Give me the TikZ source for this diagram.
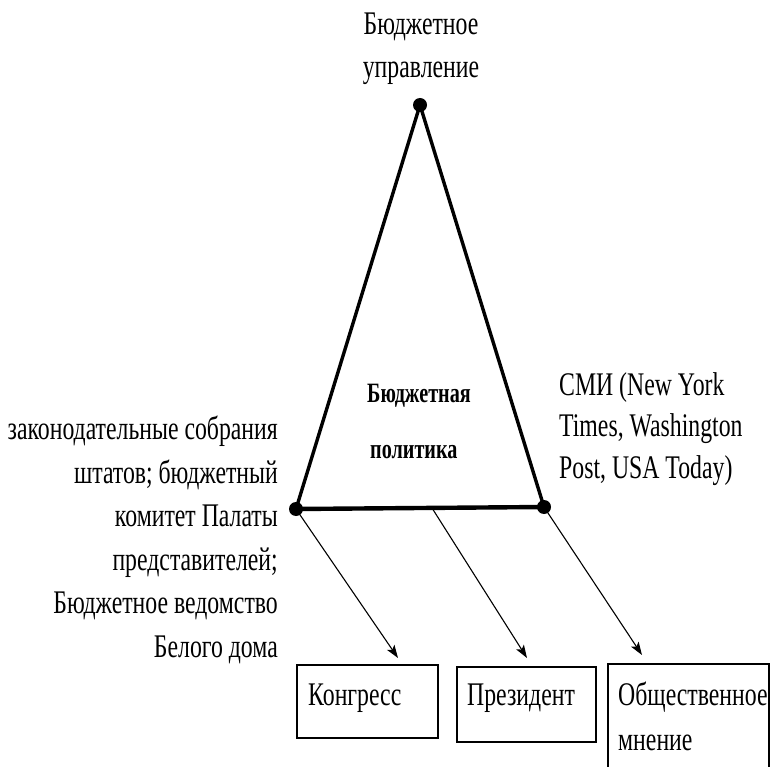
\documentclass[tikz,border=0pt]{standalone}
\usepackage{fontspec}
\setmainfont{Liberation Serif}[FakeStretch=0.72]
\usetikzlibrary{arrows.meta}
\tikzset{
  x=1pt, y=-1pt,
  dot/.style={circle, fill=black, inner sep=0pt, minimum size=14pt},
  edge/.style={line width=3.4pt, line cap=round},
  base/.style={line width=4.4pt, line cap=round},
  link/.style={line width=1.1pt, -{Stealth[length=13pt,width=9pt,inset=3pt]}},
  box/.style={draw, line width=1.1pt},
  lbl/.style={inner sep=0pt, font=\fontsize{33}{43.5}\selectfont},
  boxlbl/.style={inner sep=0pt, anchor=base west, font=\fontsize{33}{45}\selectfont, align=left},
}
\begin{document}
\begin{tikzpicture}
\useasboundingbox (0,0) rectangle (771,767);
\clip (0,0) rectangle (771,767);
% vertices
\coordinate (A) at (420,105);
\coordinate (L) at (296,509);
\coordinate (R) at (544,507);
\coordinate (M) at (432,508);
% triangle
\draw[edge] (L) -- (A) -- (R);
\draw[base] (L) -- (R);
\node[dot] (dA) at (A) {};
\node[dot] (dL) at (L) {};
\node[dot] (dR) at (R) {};
% boxes
\draw[box] (297,665) rectangle (438,738);
\draw[box] (457,667) rectangle (596,742);
\draw[box] (608,664) rectangle (769,800);
% arrow ends
\coordinate (ke) at (398,658);
\coordinate (pe) at (527,658);
\coordinate (oe) at (642,655);
\draw[link] (L) -- (ke);
\draw[link] (M) -- (pe);
\draw[link] (R) -- (oe);
% texts (base anchor = baseline of last line)
\node[lbl, anchor=base, align=center] (top) at (421,78) {Бюджетное\\управление};
\node[lbl, anchor=base east, align=right] (left) at (278,657) {законодательные собрания\\штатов; бюджетный\\комитет Палаты\\представителей;\\Бюджетное ведомство\\Белого дома};
\node[inner sep=0pt, font=\fontsize{33}{41.5}\selectfont, anchor=base west, align=left] (right) at (559,478) {СМИ (New York\\Times, Washington\\Post, USA Today)};
\node[inner sep=0pt, anchor=base west, align=left, font=\fontsize{28}{56}\selectfont\bfseries] (center) at (367,458) {Бюджетная\\\hspace*{3pt}политика};
\node[boxlbl] (kt) at (308,705) {Конгресс};
\node[boxlbl] (pt) at (467,705) {Президент};
\node[boxlbl] (ot) at (618,750) {Общественное\\мнение};
\end{tikzpicture}
\end{document}
